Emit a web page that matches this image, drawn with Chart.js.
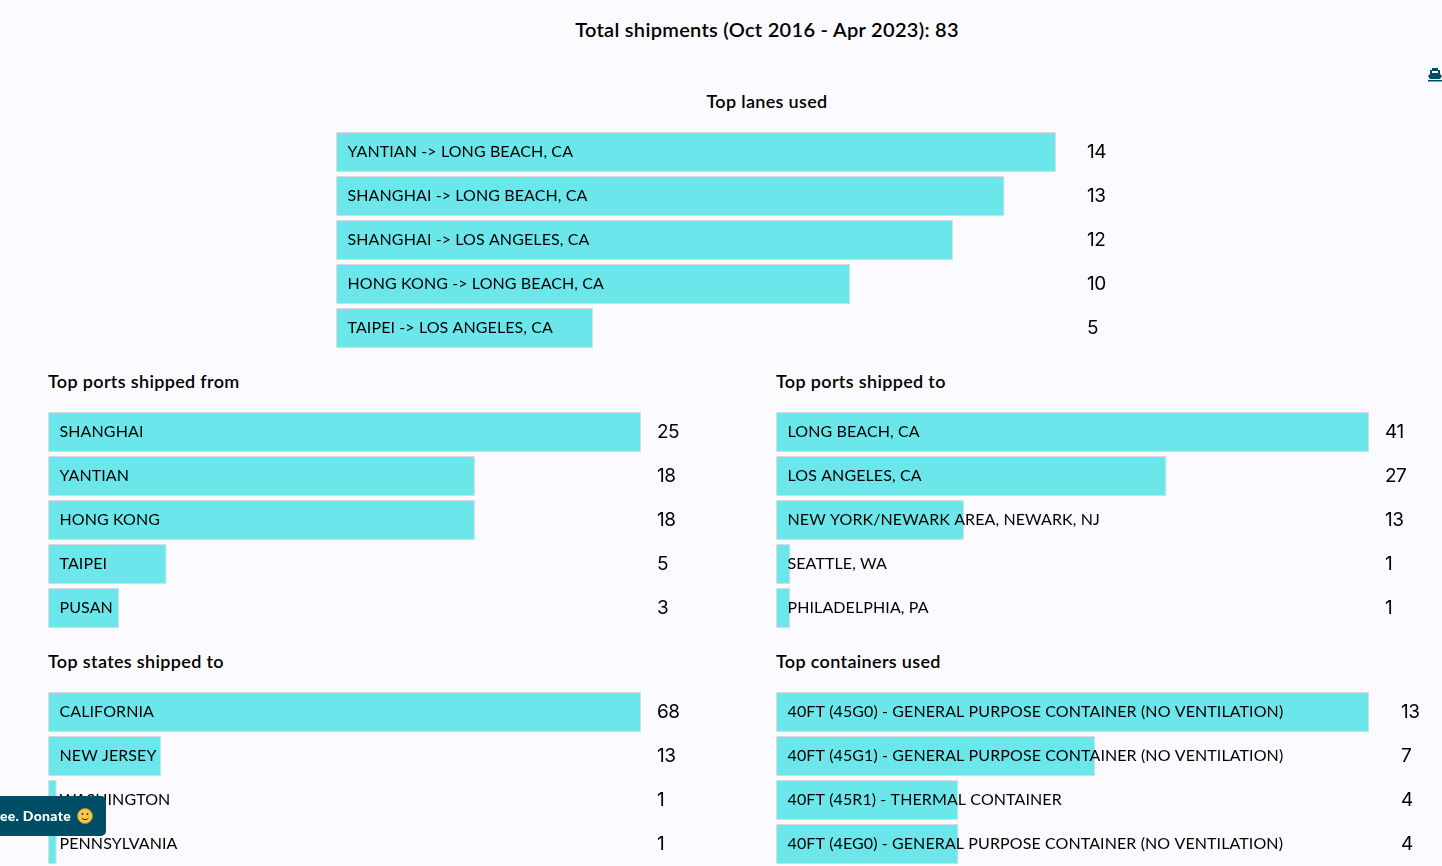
<!DOCTYPE html>
<html>
<head>
<meta charset="utf-8">
<title>Shipments</title>
<script src="https://cdn.jsdelivr.net/npm/chart.js@4"></script>
<style>
    html, body { margin: 0; padding: 0; width: 1442px; height: 866px; overflow: hidden; background: #fbfbff; font-family: Lato, sans-serif; color: #000; }
    .heading { position: absolute; white-space: nowrap; font-weight: 600; font-size: 18px; line-height: 24px; letter-spacing: 0.33px; }
    .main-title { left: 0; width: 1534px; top: 16px; text-align: center; font-size: 20px; line-height: 26px; letter-spacing: 0.3px; }
    .panel { position: absolute; }
    #donate { position: absolute; left: 0; top: 796px; width: 106px; height: 40px; background: #004d66; border-radius: 0 5px 5px 0; color: #fff; font-weight: 900; font-size: 14px; line-height: 40px; letter-spacing: 0.3px; white-space: nowrap; overflow: hidden; }
    #donate span { position: absolute; right: 35px; }
    #donate svg { position: absolute; left: 77px; top: 12px; }
    #ship { position: absolute; left: 1428px; top: 67px; }
</style>
</head>
<body>
<div class="heading main-title">Total shipments (Oct 2016 - Apr 2023): 83</div>

<div class="heading" style="left:336px;width:862px;top:89px;text-align:center">Top lanes used</div>
<div class="heading" style="left:48px;top:369px">Top ports shipped from</div>
<div class="heading" style="left:776px;top:369px">Top ports shipped to</div>
<div class="heading" style="left:48px;top:649px">Top states shipped to</div>
<div class="heading" style="left:776px;top:649px">Top containers used</div>

<canvas class="panel" id="lanes" style="left:336px;top:130px"></canvas>
<canvas class="panel" id="from" style="left:48px;top:410px"></canvas>
<canvas class="panel" id="to" style="left:776px;top:410px"></canvas>
<canvas class="panel" id="states" style="left:48px;top:690px"></canvas>
<canvas class="panel" id="containers" style="left:776px;top:690px"></canvas>

<svg id="ship" width="14" height="15" viewBox="0 0 14 15">
    <path fill="#004d66" d="M4 1h6v2h2v4l2 2-2 3H2L0 9l2-2V3h2z"/>
    <rect x="4" y="4" width="6" height="2" fill="#fbfbff"/>
    <rect x="0" y="13" width="14" height="1.5" fill="#004d66"/>
</svg>

<div id="donate">
    <span>ee. Donate</span>
    <svg width="16" height="16" viewBox="0 0 16 16">
        <circle cx="8" cy="8" r="7.5" fill="#f7c948" stroke="#b58a1c"/>
        <circle cx="5.5" cy="6" r="1" fill="#333"/>
        <circle cx="10.5" cy="6" r="1" fill="#333"/>
        <path d="M4.5 10c1.5 2 5.5 2 7 0" fill="none" stroke="#333"/>
    </svg>
</div>

<script>
// Values
const laneLabels = ['YANTIAN -> LONG BEACH, CA', 'SHANGHAI -> LONG BEACH, CA', 'SHANGHAI -> LOS ANGELES, CA', 'HONG KONG -> LONG BEACH, CA', 'TAIPEI -> LOS ANGELES, CA'];
const laneValues = [14, 13, 12, 10, 5];
const fromLabels = ['SHANGHAI', 'YANTIAN', 'HONG KONG', 'TAIPEI', 'PUSAN'];
const fromValues = [25, 18, 18, 5, 3];
const toLabels = ['LONG BEACH, CA', 'LOS ANGELES, CA', 'NEW YORK/NEWARK AREA, NEWARK, NJ', 'SEATTLE, WA', 'PHILADELPHIA, PA'];
const toValues = [41, 27, 13, 1, 1];
const stateLabels = ['CALIFORNIA', 'NEW JERSEY', 'WASHINGTON', 'PENNSYLVANIA'];
const stateValues = [68, 13, 1, 1];
const containerLabels = ['40FT (45G0) - GENERAL PURPOSE CONTAINER (NO VENTILATION)', '40FT (45G1) - GENERAL PURPOSE CONTAINER (NO VENTILATION)', '40FT (45R1) - THERMAL CONTAINER', '40FT (4EG0) - GENERAL PURPOSE CONTAINER (NO VENTILATION)'];
const containerValues = [13, 7, 4, 4];

// Draws the category name inside the bar and the count to the right of it
const barText = {
    id: 'barText',
    afterDatasetsDraw(chart, args, opts) {
        const ctx = chart.ctx;
        const area = chart.chartArea;
        ctx.save();
        ctx.fillStyle = '#000';
        ctx.textBaseline = 'middle';
        chart.getDatasetMeta(0).data.forEach(function(bar, i) {
            ctx.font = '16px Lato, sans-serif';
            ctx.letterSpacing = '0.1px';
            ctx.fillText(chart.data.labels[i], area.left + 11.5, bar.y);
            ctx.font = '19px Inter, sans-serif';
            ctx.letterSpacing = '-0.5px';
            ctx.fillText(chart.data.datasets[0].data[i], area.right + opts.gap, bar.y);
        });
        ctx.restore();
    }
};

function makeChart(id, labels, values, barWidth, gap, canvasWidth) {
    const canvas = document.getElementById(id);
    return new Chart(canvas, {
        type: 'bar',
        data: {
            labels: labels,
            datasets: [{
                data: values,
                backgroundColor: '#6be6ea',
                borderColor: '#dcdcdc',
                borderWidth: 1,
                borderSkipped: false,
                categoryPercentage: 1,
                barPercentage: 0.91
            }]
        },
        options: {
            indexAxis: 'y',
            responsive: false,
            animation: false,
            layout: { padding: { right: canvasWidth - barWidth } },
            plugins: {
                legend: { display: false },
                tooltip: { enabled: false },
                barText: { gap: gap }
            },
            scales: {
                x: { display: false, min: 0, max: values[0] },
                y: { display: false }
            }
        },
        plugins: [barText]
    });
}

document.getElementById('lanes').width = 860;
document.getElementById('lanes').height = 44 * laneLabels.length;
document.getElementById('from').width = 680;
document.getElementById('from').height = 44 * fromLabels.length;
document.getElementById('to').width = 666;
document.getElementById('to').height = 44 * toLabels.length;
document.getElementById('states').width = 680;
document.getElementById('states').height = 44 * stateLabels.length;
document.getElementById('containers').width = 666;
document.getElementById('containers').height = 44 * containerLabels.length;

makeChart('lanes', laneLabels, laneValues, 720, 31, 860);
makeChart('from', fromLabels, fromValues, 593, 16, 680);
makeChart('to', toLabels, toValues, 593, 16, 666);
makeChart('states', stateLabels, stateValues, 593, 16, 680);
makeChart('containers', containerLabels, containerValues, 593, 32, 666);
</script>
</body>
</html>
